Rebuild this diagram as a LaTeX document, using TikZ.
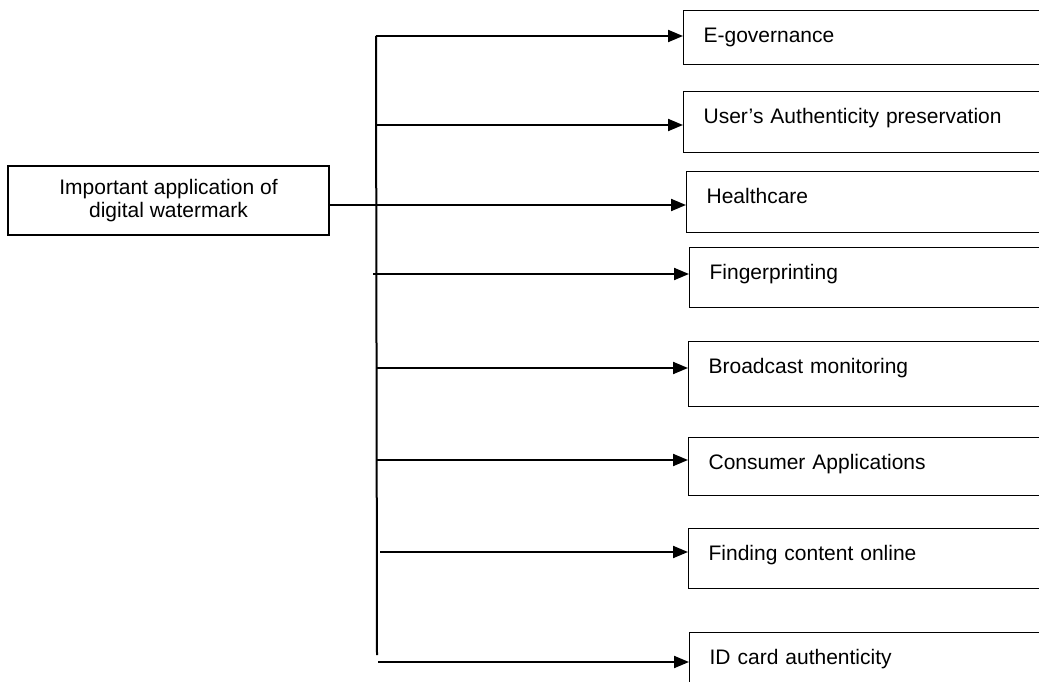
\documentclass[tikz,border=0pt]{standalone}
\usepackage{fontspec}
\setmainfont{Liberation Sans}
\usetikzlibrary{arrows.meta}

\begin{document}
\begin{tikzpicture}[x=1pt,y=-1pt,>={Triangle[length=15pt,width=12pt]},
    appbox/.style={draw,line width=1.2pt,anchor=north west,text width=400pt,align=left,
        inner xsep=20pt,inner ysep=16.5pt,text height=15pt,font=\fontsize{21}{25}\selectfont},
    link/.style={->,line width=2pt}]
                \useasboundingbox (0,0) rectangle (1039,682);
                \clip (0,0) rectangle (1039,682);
                \node[draw,line width=1.2pt,minimum width=321pt,minimum height=69pt,align=center,
                    font=\fontsize{21}{23}\selectfont](main)at(168.5, 200.5){Important application of\\digital watermark};
                \node[appbox,text depth=6pt](egov)at(683, 10){E-governance};
                \node[appbox,text depth=13pt](users)at(683, 91){User’s Authenticity preservation};
                \node[appbox,text depth=13pt](health)at(686, 171){Healthcare};
                \node[appbox,text depth=12pt](finger)at(689, 247){Fingerprinting};
                \node[appbox,text depth=17pt](broad)at(688, 341){Broadcast monitoring};
                \node[appbox,text depth=10pt](consumer)at(688, 437){Consumer Applications};
                \node[appbox,text depth=12pt](finding)at(688, 528){Finding content online};
                \node[appbox,text depth=12pt](idcard)at(689, 632){ID card authenticity};
                % trunk and its branch points
                \coordinate (top) at (376, 36);
                \coordinate (bottom) at (377, 655);
                \coordinate (b1) at (376, 36);
                \coordinate (b2) at (376, 125);
                \coordinate (b3) at (376, 205);
                \coordinate (b4) at (373, 274);
                \coordinate (b5) at (376, 368);
                \coordinate (b6) at (376, 460);
                \coordinate (b7) at (380, 552);
                \coordinate (b8) at (378, 662);
                \draw[line width=2pt] (top) -- (bottom);
                \draw[line width=1.3pt] (main.east |- b3) -- (b3);
                \path[link](b1) edge (b1 -| egov.west)
                (b2) edge (b2 -| users.west)
                (b3) edge (b3 -| health.west)
                (b4) edge (b4 -| finger.west)
                (b5) edge (b5 -| broad.west)
                (b6) edge (b6 -| consumer.west)
                (b7) edge (b7 -| finding.west)
                (b8) edge (b8 -| idcard.west);
            \end{tikzpicture}
\end{document}
